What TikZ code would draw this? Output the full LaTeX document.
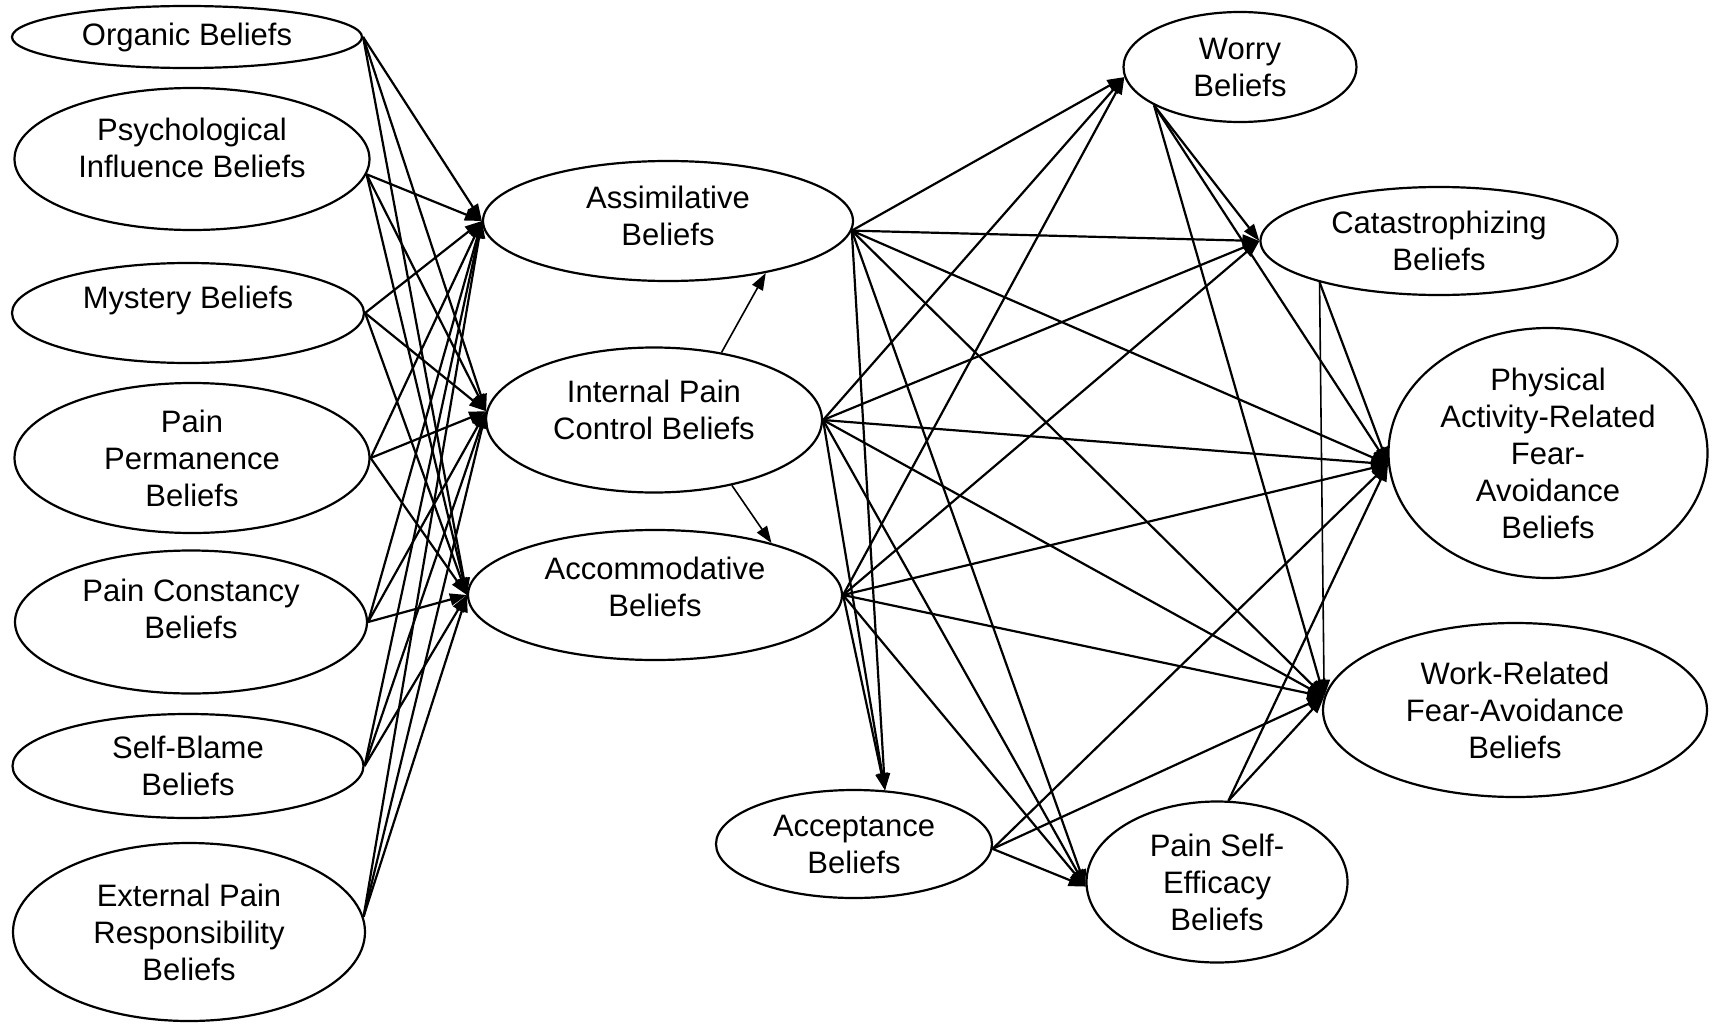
\documentclass[tikz,border=0pt]{standalone}
\usepackage{fontspec}
\setmainfont{Liberation Sans}
\usetikzlibrary{arrows.meta,shapes.geometric}

\begin{document}
\begin{tikzpicture}[
  x=1pt, y=-1pt,
  belief/.style={draw, ellipse, line width=2.2pt, inner sep=0pt, align=center,
                 font=\fontsize{31}{37}\selectfont},
  arr/.style={-{Triangle[length=17pt,width=12pt]}, line width=2.2pt}
]
\useasboundingbox (0,0) rectangle (1715,1025);
% pain beliefs
\node[belief, minimum width=350, minimum height=62] (org) at (187,37) {Organic Beliefs};
\node[belief, minimum width=355, minimum height=142, text height=60pt, text depth=23pt] (psy) at (192,159) {Psychological\\Influence Beliefs};
\node[belief, minimum width=352, minimum height=100, text height=23pt, text depth=33pt] (mys) at (188,313) {Mystery Beliefs};
\node[belief, minimum width=355, minimum height=150] (perm) at (192,458) {Pain\\Permanence\\Beliefs};
\node[belief, minimum width=352, minimum height=143, text height=60pt, text depth=27pt] (cons) at (191,622) {Pain Constancy\\Beliefs};
\node[belief, minimum width=351, minimum height=104] (blame) at (188,766) {Self-Blame\\Beliefs};
\node[belief, minimum width=352, minimum height=178] (ext) at (189,932) {External Pain\\Responsibility\\Beliefs};
% coping beliefs
\node[belief, minimum width=370, minimum height=120, text height=60pt, text depth=11pt] (assim) at (668,221) {Assimilative\\Beliefs};
\node[belief, minimum width=336, minimum height=145, text height=60pt, text depth=21pt] (ipc) at (654,420) {Internal Pain\\Control Beliefs};
\node[belief, minimum width=374, minimum height=130, text height=60pt, text depth=17pt] (accom) at (655,595) {Accommodative\\Beliefs};
\node[belief, minimum width=276, minimum height=108] (accept) at (854,844) {Acceptance\\Beliefs};
\node[belief, minimum width=261, minimum height=161] (pse) at (1217,882) {Pain Self-\\Efficacy\\Beliefs};
% outcomes
\node[belief, minimum width=233, minimum height=110] (worry) at (1240,67) {Worry\\Beliefs};
\node[belief, minimum width=357, minimum height=108] (cat) at (1439,241) {Catastrophizing\\Beliefs};
\node[belief, minimum width=319, minimum height=250] (phys) at (1548,453) {Physical\\Activity-Related\\Fear-\\Avoidance\\Beliefs};
\node[belief, minimum width=384, minimum height=174] (work) at (1515,710) {Work-Related\\Fear-Avoidance\\Beliefs};

% pain beliefs -> coping
\draw[arr] (org.east) -- (assim.west);
\draw[arr] (org.east) -- (ipc.177);
\draw[arr] (org.east) -- (accom.west);
\draw[arr] (psy.-5) -- (assim.west);
\draw[arr] (psy.-5) -- (ipc.177);
\draw[arr] (psy.-5) -- (accom.west);
\draw[arr] (mys.east) -- (assim.west);
\draw[arr] (mys.east) -- (ipc.177);
\draw[arr] (mys.east) -- (accom.west);
\draw[arr] (perm.east) -- (assim.west);
\draw[arr] (perm.east) -- (ipc.177);
\draw[arr] (perm.east) -- (accom.west);
\draw[arr] (cons.east) -- (assim.west);
\draw[arr] (cons.east) -- (ipc.177);
\draw[arr] (cons.east) -- (accom.west);
\draw[arr] (blame.east) -- (assim.west);
\draw[arr] (blame.east) -- (ipc.177);
\draw[arr] (blame.east) -- (accom.west);
\draw[arr] (ext.5) -- (assim.west);
\draw[arr] (ext.5) -- (ipc.177);
\draw[arr] (ext.5) -- (accom.west);
\draw[arr, line width=1.6pt] (ipc.45) -- (assim.-28);
\draw[arr, line width=1.6pt] (ipc.-40) -- (accom.24);

% coping -> outcomes
\draw[arr] (assim.-3) -- (worry.185);
\draw[arr] (assim.-3) -- (cat.west);
\draw[arr] (assim.-3) -- (phys.184);
\draw[arr] (assim.-3) -- (work.176);
\draw[arr] (assim.-3) -- (accept.60);
\draw[arr] (assim.-3) -- (pse.182);
\draw[arr] (ipc.east) -- (worry.185);
\draw[arr] (ipc.east) -- (cat.west);
\draw[arr] (ipc.east) -- (phys.184);
\draw[arr] (ipc.east) -- (work.176);
\draw[arr] (ipc.east) -- (accept.60);
\draw[arr] (ipc.east) -- (pse.182);
\draw[arr] (accom.east) -- (worry.185);
\draw[arr] (accom.east) -- (cat.west);
\draw[arr] (accom.east) -- (phys.184);
\draw[arr] (accom.east) -- (work.176);
\draw[arr] (accom.east) -- (accept.60);
\draw[arr] (accom.east) -- (pse.182);
\draw[arr] (worry.204) -- (cat.west);
\draw[arr] (worry.204) -- (phys.184);
\draw[arr] (worry.204) -- (work.176);
\draw[arr] (cat.199) -- (phys.184);
\draw[arr, line width=1.6pt] (cat.199) -- (work.176);
\draw[arr] (accept.-2) -- (phys.184);
\draw[arr] (accept.-2) -- (work.176);
\draw[arr] (accept.-2) -- (pse.182);
\draw[arr] (pse.82) -- (phys.184);
\draw[arr] (pse.82) -- (work.176);
\end{tikzpicture}
\end{document}
